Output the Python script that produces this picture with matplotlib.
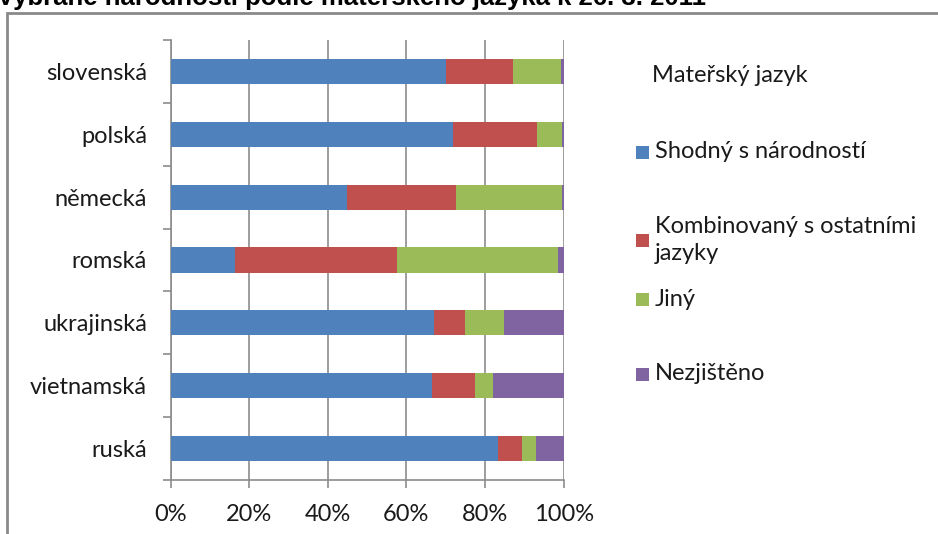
import matplotlib.pyplot as plt
import numpy as np
from matplotlib.patches import Rectangle

plt.rcParams['font.family'] = ['Lato', 'DejaVu Sans']

nationalities = ["slovenská", "polská", "německá", "romská", "ukrajinská", "vietnamská", "ruská"]
series_names = ["Shodný s národností", "Kombinovaný s ostatními\njazyky", "Jiný", "Nezjištěno"]
colors = ["#4F81BD", "#C0504D", "#9BBB59", "#8064A2"]

# shares in %
shodny = [70.1, 71.8, 44.9, 16.5, 66.9, 66.4, 83.3]
kombinovany = [17.0, 21.4, 27.8, 41.1, 8.1, 11.1, 6.1]
jiny = [12.1, 6.4, 26.9, 41.0, 9.8, 4.5, 3.5]
nezjisteno = [0.8, 0.4, 0.4, 1.4, 15.2, 18.0, 7.1]

title = "Vybrané národnosti podle mateřského jazyka k 26. 3. 2011"

W, H = 938, 534
fig = plt.figure(figsize=(W / 100, H / 100), dpi=100)

# outer chart frame (partly cut off at right and bottom)
fig.patches.append(Rectangle((7 / W, -0.05), 1.1, 1 - 13 / H + 0.05, transform=fig.transFigure,
                             fill=False, edgecolor="#8a8a8a", linewidth=2))
# title sits mostly above the visible area, as in the original crop
fig.text(-3 / W, 1 - 5 / H, title, fontsize=18.5, fontweight="bold", family="Liberation Sans",
         va="baseline", ha="left")

ax = fig.add_axes([170.5 / W, 1 - 480 / H, 393.2 / W, 440 / H])

data = np.array([shodny, kombinovany, jiny, nezjisteno])
ypos = np.arange(len(nationalities))
left = np.zeros(len(nationalities))
for vals, col in zip(data, colors):
    ax.barh(ypos, vals, left=left, height=0.4, color=col, zorder=3)
    left += vals

ax.set_xlim(0, 100)
ax.set_ylim(len(nationalities) - 0.5, -0.5)
ax.set_xticks(np.arange(0, 101, 20))
ax.set_xticklabels([f"{v}%" for v in range(0, 101, 20)])
ax.set_yticks(ypos)
ax.set_yticklabels(nationalities)
ax.set_yticks(np.arange(-0.5, len(nationalities)), minor=True)
ax.grid(axis="x", color="#8c8c8c", linewidth=1.2, zorder=0)

for s in ["top", "right"]:
    ax.spines[s].set_visible(False)
for s in ["left", "bottom"]:
    ax.spines[s].set_color("#8c8c8c")
    ax.spines[s].set_linewidth(1.2)

ax.tick_params(axis="y", which="major", length=0, pad=17, labelsize=17, labelcolor="#1a1a1a")
ax.tick_params(axis="y", which="minor", length=6, color="#8c8c8c", width=1.2)
ax.tick_params(axis="x", length=6, color="#8c8c8c", width=1.2, pad=11, labelsize=17, labelcolor="#1a1a1a")

# legend drawn by hand to follow the uneven spacing of the original
fig.text(652 / W, 1 - 76 / H, "Mateřský jazyk", fontsize=17, va="center", color="#1a1a1a")
legend_y = [152, 240, 299, 374]
for name, col, yy in zip(series_names, colors, legend_y):
    fig.patches.append(Rectangle((636 / W, 1 - (yy + 6.5) / H), 13 / W, 13 / H,
                                 transform=fig.transFigure, facecolor=col, edgecolor="none"))
    fig.text(655 / W, 1 - yy / H, name, fontsize=17, va="center", color="#1a1a1a", linespacing=1.3)

fig.savefig("out.png", dpi=100)
